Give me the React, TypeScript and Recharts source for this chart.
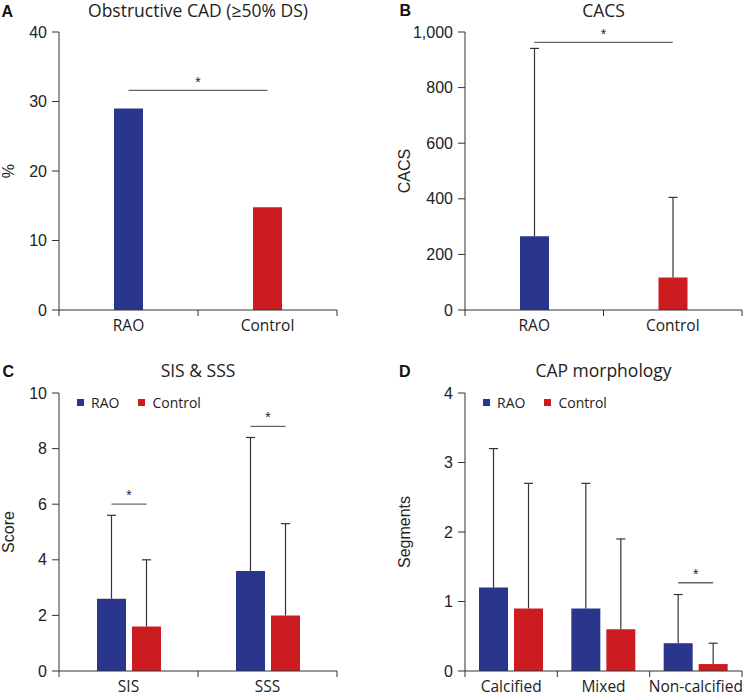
import React from 'react';
import { BarChart, Bar, XAxis, YAxis, Cell, ReferenceLine, Legend } from 'recharts';

// ---------- data ----------
const groupCats = ['RAO', 'Control'];
const obstructivePct = [29.0, 14.8];
const sigObstructive = 31.6;

const cacsMean = [265, 117];
const cacsSD = [676, 288];
const sigCacs = 963;

const scoreCats = ['SIS', 'SSS'];
const scoreRAO = [2.6, 3.6];
const scoreRAOsd = [3.0, 4.8];
const scoreCtl = [1.6, 2.0];
const scoreCtlsd = [2.4, 3.3];
const scoreSig = [6.0, 8.8];

const capCats = ['Calcified', 'Mixed', 'Non-calcified'];
const capRAO = [1.2, 0.9, 0.4];
const capRAOsd = [2.0, 1.8, 0.7];
const capCtl = [0.9, 0.6, 0.1];
const capCtlsd = [1.8, 1.3, 0.3];
const capSig: (number | null)[] = [null, null, 1.27];

const ticksA = [0, 10, 20, 30, 40];
const ticksB = [0, 200, 400, 600, 800, 1000];
const ticksC = [0, 2, 4, 6, 8, 10];
const ticksD = [0, 1, 2, 3, 4];

const seriesNames = ['RAO', 'Control'];

// ---------- style ----------
const BLUE = '#29368c';
const RED = '#cc1c21';
const AXIS = '#333';
const ERR = '#333';
const SIG = '#666';
const NUM_FONT = '"Liberation Sans", Arial, Helvetica, sans-serif';
const TXT_FONT = '"Open Sans", "Noto Sans", sans-serif';
const BAR = 29;
const GAP = 6;

const dataA = groupCats.map((c, i) => ({ name: c, pct: obstructivePct[i] }));
const dataB = groupCats.map((c, i) => ({ name: c, mean: cacsMean[i], sd: cacsSD[i] }));
const dataC = scoreCats.map((c, i) => ({
  name: c, rao: scoreRAO[i], raoSd: scoreRAOsd[i], ctl: scoreCtl[i], ctlSd: scoreCtlsd[i], sig: scoreSig[i],
}));
const dataD = capCats.map((c, i) => ({
  name: c, rao: capRAO[i], raoSd: capRAOsd[i], ctl: capCtl[i], ctlSd: capCtlsd[i], sig: capSig[i],
}));
const groupColors = [BLUE, RED];

const makeCatTick = (band: number, count: number) => (p: any) => {
  const { x, y, payload, index } = p;
  const half = band / 2;
  return (
    <g key={`t-${index}`}>
      <line x1={x - half} x2={x - half} y1={y} y2={y + 6} stroke={AXIS} strokeWidth={1} />
      {index === count - 1 && (
        <line x1={x + half} x2={x + half} y1={y} y2={y + 6} stroke={AXIS} strokeWidth={1} />
      )}
      <text x={x} y={y + 21} textAnchor="middle" fontFamily={TXT_FONT} fontSize={15.5} fill="#222">
        {payload.value}
      </text>
    </g>
  );
};

const makeErrShape = (valueKey: string, errKey: string, withSig: boolean) => (props: any) => {
  const { x, y, width, height, payload } = props;
  if (!(height > 0)) return <g />;
  const cx = x + width / 2;
  const parts: any[] = [
    <line key="v" x1={cx} x2={cx} y1={y} y2={y + height} stroke={ERR} strokeWidth={1.2} />,
    <line key="c" x1={cx - 4.5} x2={cx + 4.5} y1={y} y2={y} stroke={ERR} strokeWidth={1.2} />,
  ];
  if (withSig && payload && payload.sig != null) {
    const ppu = height / payload[errKey];
    const zeroY = y + height + payload[valueKey] * ppu;
    const sy = zeroY - payload.sig * ppu;
    const x2 = cx + width + GAP;
    parts.push(
      <line key="s" x1={cx} x2={x2} y1={sy} y2={sy} stroke={SIG} strokeWidth={1.3} />,
      <text key="st" x={(cx + x2) / 2} y={sy - 4} textAnchor="middle" fontFamily={NUM_FONT} fontSize={14} fill="#222">*</text>,
    );
  }
  return <g>{parts}</g>;
};

const LegendContent = (props: any) => {
  const payload = (props.payload || [])
    .filter((p: any) => p.type !== 'none' && seriesNames.includes(p.value))
    .slice()
    .sort((a: any, b: any) => seriesNames.indexOf(a.value) - seriesNames.indexOf(b.value));
  return (
    <div style={{ display: 'flex', alignItems: 'center', fontFamily: TXT_FONT, fontSize: 14, color: '#222', lineHeight: '19px' }}>
      {payload.map((p: any, i: number) => (
        <div key={i} style={{ display: 'flex', alignItems: 'center', marginRight: 19 }}>
          <span style={{ width: 7, height: 7, background: p.color, display: 'inline-block', marginRight: 7 }} />
          <span>{p.value}</span>
        </div>
      ))}
    </div>
  );
};

const yTick = { fill: '#222', fontSize: 16, fontFamily: NUM_FONT };
const yLabel = (value: string, dx: number) => ({
  value, angle: -90, position: 'center' as const, dx,
  style: { fill: '#222', fontSize: 16, fontFamily: NUM_FONT, textAnchor: 'middle' as const },
});
const sigLabel = { value: '*', position: 'top' as const, offset: 3, fill: '#222', fontSize: 14, fontFamily: NUM_FONT };

export default function App() {
  const errC_rao = makeErrShape('rao', 'raoSd', true);
  const errC_ctl = makeErrShape('ctl', 'ctlSd', false);
  const errB = makeErrShape('mean', 'sd', false);

  return (
    <div style={{ position: 'absolute', left: 0, top: 0, width: 746, height: 694, background: '#fff', overflow: 'hidden' }}>
      {/* A */}
      <div style={{ position: 'absolute', left: 0, top: 0 }}>
        <BarChart width={373} height={340} data={dataA} margin={{ top: 32, right: 36, left: 0, bottom: 0 }} barSize={BAR}>
          <XAxis dataKey="name" height={30} tickSize={0} tickMargin={0} tickLine={false} interval={0}
            axisLine={{ stroke: AXIS }} tick={makeCatTick(278 / 2, 2)} />
          <YAxis width={59} domain={[0, 40]} ticks={ticksA} interval={0} tickSize={7} tickMargin={5}
            axisLine={{ stroke: AXIS }} tickLine={{ stroke: AXIS }} tick={yTick} label={yLabel('%', -21)} />
          <Bar dataKey="pct" isAnimationActive={false}>
            {dataA.map((d, i) => <Cell key={d.name} fill={groupColors[i]} />)}
          </Bar>
          <ReferenceLine segment={[{ x: 'RAO', y: sigObstructive }, { x: 'Control', y: sigObstructive }]}
            stroke={SIG} strokeWidth={1.3} label={sigLabel} />
        </BarChart>
      </div>

      {/* B */}
      <div style={{ position: 'absolute', left: 373, top: 0 }}>
        <BarChart width={373} height={340} data={dataB} margin={{ top: 32, right: 4, left: 0, bottom: 0 }} barSize={BAR}>
          <XAxis dataKey="name" height={30} tickSize={0} tickMargin={0} tickLine={false} interval={0}
            axisLine={{ stroke: AXIS }} tick={makeCatTick(277 / 2, 2)} />
          <YAxis width={92} domain={[0, 1000]} ticks={ticksB} interval={0} tickSize={7} tickMargin={5}
            tickFormatter={(v: number) => v.toLocaleString('en-US')}
            axisLine={{ stroke: AXIS }} tickLine={{ stroke: AXIS }} tick={yTick} label={yLabel('CACS', -15)} />
          <Bar dataKey="mean" stackId="s" isAnimationActive={false}>
            {dataB.map((d, i) => <Cell key={d.name} fill={groupColors[i]} />)}
          </Bar>
          <Bar dataKey="sd" stackId="s" isAnimationActive={false} shape={errB} legendType="none" />
          <ReferenceLine segment={[{ x: 'RAO', y: sigCacs }, { x: 'Control', y: sigCacs }]}
            stroke={SIG} strokeWidth={1.3} label={sigLabel} />
        </BarChart>
      </div>

      {/* C */}
      <div style={{ position: 'absolute', left: 0, top: 340 }}>
        <BarChart width={373} height={354} data={dataC} margin={{ top: 53, right: 36, left: 0, bottom: 0 }} barSize={BAR} barGap={GAP}>
          <XAxis dataKey="name" height={23} tickSize={0} tickMargin={0} tickLine={false} interval={0}
            axisLine={{ stroke: AXIS }} tick={makeCatTick(278 / 2, 2)} />
          <YAxis width={59} domain={[0, 10]} ticks={ticksC} interval={0} tickSize={7} tickMargin={5}
            axisLine={{ stroke: AXIS }} tickLine={{ stroke: AXIS }} tick={yTick} label={yLabel('Score', -21.5)} />
          <Legend verticalAlign="middle" align="center" layout="horizontal" content={LegendContent} itemSorter={null as any}
            wrapperStyle={{ top: 53, left: 77, width: 220, height: 19 }} />
          <Bar dataKey="rao" name="RAO" stackId="r" fill={BLUE} isAnimationActive={false} />
          <Bar dataKey="raoSd" stackId="r" isAnimationActive={false} shape={errC_rao} legendType="none" />
          <Bar dataKey="ctl" name="Control" stackId="c" fill={RED} isAnimationActive={false} />
          <Bar dataKey="ctlSd" stackId="c" isAnimationActive={false} shape={errC_ctl} legendType="none" />
        </BarChart>
      </div>

      {/* D */}
      <div style={{ position: 'absolute', left: 373, top: 340 }}>
        <BarChart width={373} height={354} data={dataD} margin={{ top: 53, right: 4, left: 0, bottom: 0 }} barSize={BAR} barGap={GAP}>
          <XAxis dataKey="name" height={23} tickSize={0} tickMargin={0} tickLine={false} interval={0}
            axisLine={{ stroke: AXIS }} tick={makeCatTick(277 / 3, 3)} />
          <YAxis width={92} domain={[0, 4]} ticks={ticksD} interval={0} tickSize={7} tickMargin={5}
            axisLine={{ stroke: AXIS }} tickLine={{ stroke: AXIS }} tick={yTick} label={yLabel('Segments', -15)} />
          <Legend verticalAlign="middle" align="center" layout="horizontal" content={LegendContent} itemSorter={null as any}
            wrapperStyle={{ top: 53, left: 110, width: 220, height: 19 }} />
          <Bar dataKey="rao" name="RAO" stackId="r" fill={BLUE} isAnimationActive={false} />
          <Bar dataKey="raoSd" stackId="r" isAnimationActive={false} shape={errC_rao} legendType="none" />
          <Bar dataKey="ctl" name="Control" stackId="c" fill={RED} isAnimationActive={false} />
          <Bar dataKey="ctlSd" stackId="c" isAnimationActive={false} shape={errC_ctl} legendType="none" />
        </BarChart>
      </div>

      {/* titles and panel letters */}
      <svg width={746} height={694} style={{ position: 'absolute', left: 0, top: 0, pointerEvents: 'none' }}>
        <g fontFamily={NUM_FONT} fontWeight="bold" fontSize={16} fill="#111">
          <text x={1.5} y={16.5}>A</text>
          <text x={399.5} y={16}>B</text>
          <text x={2.5} y={376.5}>C</text>
          <text x={399} y={376.5}>D</text>
        </g>
        <g fontFamily={TXT_FONT} fontSize={17.5} fill="#222" textAnchor="middle">
          <text x={198} y={17}>Obstructive CAD (≥50% DS)</text>
          <text x={603.5} y={17}>CACS</text>
          <text x={198} y={376.7}>SIS &amp; SSS</text>
          <text x={603.5} y={376.7}>CAP morphology</text>
        </g>
      </svg>
    </div>
  );
}
